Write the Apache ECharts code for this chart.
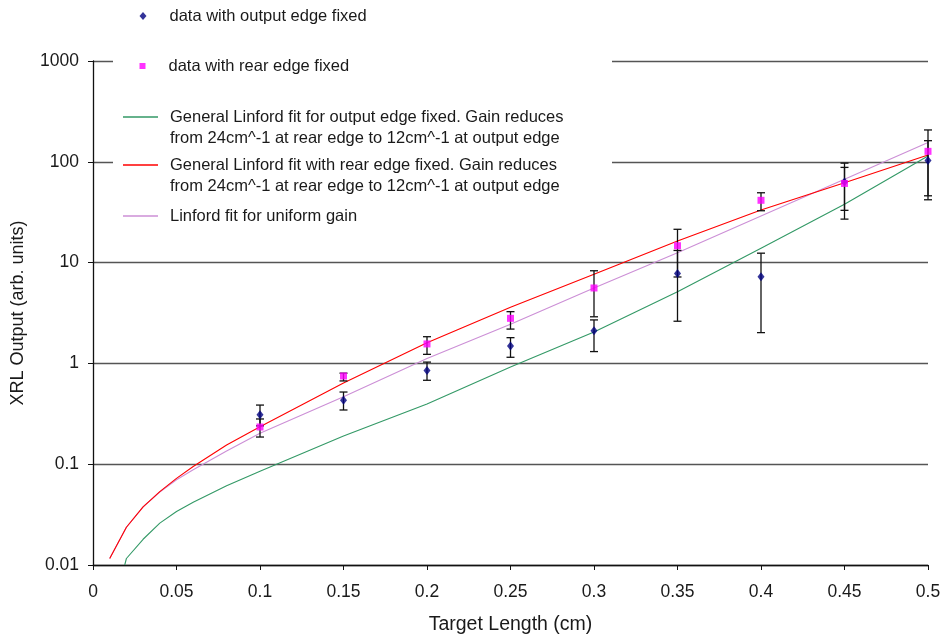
<!DOCTYPE html>
<html>
<head>
<meta charset="utf-8">
<script src="https://cdn.jsdelivr.net/npm/echarts@6/dist/echarts.min.js"></script>
<style>
  html, body { margin: 0; padding: 0; background: #fff; }
  #main { width: 948px; height: 635px; }
</style>
</head>
<body>
<div id="main"></div>
<script>
// measured points (target length in cm)
var lengths = [0.1, 0.15, 0.2, 0.25, 0.3, 0.35, 0.4, 0.45, 0.5];

// data with output edge fixed + error range
var outputFixed = [0.31, 0.43, 0.85, 1.49, 2.11, 7.8, 7.25, 63, 103];
var outputLow   = [0.24, 0.345, 0.68, 1.15, 1.31, 2.62, 2.02, 27, 42];
var outputHigh  = [0.386, 0.52, 1.03, 1.80, 2.7, 13.2, 12.4, 97, 162];

// data with rear edge fixed + error range
var rearFixed = [0.234, 0.75, 1.56, 2.8, 5.6, 14.7, 41.5, 61, 127];
var rearLow   = [0.186, 0.67, 1.23, 2.19, 2.9, 7.2, 32.7, 33, 46];
var rearHigh  = [0.281, 0.80, 1.84, 3.26, 8.3, 21.4, 49.3, 88, 207];

// fit curves
var fitX = [0.01, 0.02, 0.03, 0.04, 0.05, 0.06, 0.08, 0.1, 0.15, 0.2, 0.25, 0.3, 0.35, 0.4, 0.45, 0.5];
var fitRear    = [0.0116, 0.0237, 0.0378, 0.0534, 0.0724, 0.095, 0.155, 0.235, 0.64, 1.6, 3.6, 7.65, 16.4, 33.2, 62, 117];
var fitUniform = [0.0116, 0.0237, 0.0378, 0.053, 0.07, 0.088, 0.135, 0.203, 0.467, 1.12, 2.44, 5.6, 12.5, 29, 67, 155];
var fitOutX = [0.019, 0.02, 0.03, 0.04, 0.05, 0.06, 0.08, 0.1, 0.15, 0.2, 0.25, 0.3, 0.35, 0.4, 0.45, 0.5];
var fitOutput  = [0.01, 0.0116, 0.018, 0.026, 0.034, 0.042, 0.061, 0.085, 0.19, 0.396, 0.92, 2.05, 5.15, 13.9, 38, 114];

var nameOut = 'data with output edge fixed';
var nameRear = 'data with rear edge fixed';
var nameFitOut = 'General Linford fit for output edge fixed. Gain reduces\nfrom 24cm^-1 at rear edge to 12cm^-1 at output edge';
var nameFitRear = 'General Linford fit with rear edge fixed. Gain reduces\nfrom 24cm^-1 at rear edge to 12cm^-1 at output edge';
var nameUni = 'Linford fit for uniform gain';

function zip(xs, ys) {
    return xs.map(function (x, i) { return [x, ys[i]]; });
}
function zipErr(xs, lo, hi) {
    return xs.map(function (x, i) { return [x, lo[i], hi[i]]; });
}

// 误差线
function renderErr(params, api) {
    var x = api.value(0);
    var lo = api.coord([x, api.value(1)]);
    var hi = api.coord([x, api.value(2)]);
    var w = 4;
    var st = { stroke: '#111', lineWidth: 1.3 };
    return {
        type: 'group',
        children: [
            { type: 'line', shape: { x1: lo[0], y1: hi[1], x2: lo[0], y2: lo[1] }, style: st },
            { type: 'line', shape: { x1: lo[0] - w, y1: hi[1], x2: lo[0] + w, y2: hi[1] }, style: st },
            { type: 'line', shape: { x1: lo[0] - w, y1: lo[1], x2: lo[0] + w, y2: lo[1] }, style: st }
        ]
    };
}

var font = 'Liberation Sans, Arial, sans-serif';
var legendText = { fontFamily: font, fontSize: 16.5, color: '#1a1a1a', lineHeight: 20 };
var legendText2 = { fontFamily: font, fontSize: 16.5, color: '#1a1a1a', lineHeight: 21, padding: [0, 0, 0, 7] };

function oneLegend(name, left, top, icon, w, h, ts, fmt) {
    return {
        data: [name], left: left, top: top, padding: 0, icon: icon,
        itemWidth: w, itemHeight: h, selectedMode: false, z: 10,
        textStyle: ts, formatter: fmt
    };
}
// 两行图例：前面加一个空行，让图标对齐第一行
function twoLine(name) { return ' \n' + name; }

var option = {
    animation: false,
    backgroundColor: '#fff',
    textStyle: { fontFamily: font },
    grid: { left: 93, right: 20, top: 61, bottom: 70, outerBoundsMode: 'none', containLabel: false },
    graphic: [{
        type: 'rect', z: 3,
        shape: { x: 113, y: 0, width: 499, height: 236 },
        style: { fill: '#fff' }
    }],
    legend: [
        oneLegend(nameOut, 139.5, 6, 'diamond', 7, 8, Object.assign({}, legendText, { padding: [0, 0, 0, 18] })),
        oneLegend(nameRear, 139.5, 56, 'rect', 6, 6, Object.assign({}, legendText, { padding: [0, 0, 0, 18] })),
        oneLegend(nameFitOut, 123, 85.5, 'rect', 35, 1.3, legendText2, twoLine),
        oneLegend(nameFitRear, 123, 133.5, 'rect', 35, 1.3, legendText2, twoLine),
        oneLegend(nameUni, 123, 206, 'rect', 35, 1.5, Object.assign({}, legendText, { padding: [0, 0, 0, 7] }))
    ],
    xAxis: {
        type: 'value', min: 0, max: 0.5, interval: 0.05,
        name: 'Target Length (cm)', nameLocation: 'middle', nameGap: 50,
        nameTextStyle: { fontSize: 19.5, color: '#1a1a1a', fontFamily: font },
        axisLine: { lineStyle: { color: '#111', width: 1.3 } },
        axisTick: { show: true, length: 5, lineStyle: { color: '#111' } },
        axisLabel: { fontSize: 17.5, color: '#1a1a1a', margin: 18, fontFamily: font },
        splitLine: { show: false }
    },
    yAxis: {
        type: 'log', logBase: 10, min: 0.01, max: 1000,
        name: 'XRL Output (arb. units)', nameLocation: 'middle', nameGap: 66,
        nameTextStyle: { fontSize: 18, color: '#1a1a1a', fontFamily: font },
        axisLine: { show: true, lineStyle: { color: '#111', width: 1.3 } },
        axisTick: { show: true, length: 5, lineStyle: { color: '#111' } },
        axisLabel: {
            fontSize: 17.5, color: '#1a1a1a', margin: 14, fontFamily: font,
            formatter: function (v) { return String(v); }
        },
        splitLine: { show: true, lineStyle: { color: '#555', width: 1.4 } },
        minorTick: { show: false }
    },
    series: [
        {
            name: nameFitOut, type: 'line', data: zip(fitOutX, fitOutput),
            showSymbol: false, color: '#339966', lineStyle: { width: 1.1, color: '#339966' }, z: 2
        },
        {
            name: nameUni, type: 'line', data: zip(fitX, fitUniform),
            showSymbol: false, color: '#CC8FD6', lineStyle: { width: 1.1, color: '#CC8FD6' }, z: 2
        },
        {
            name: nameFitRear, type: 'line', data: zip(fitX, fitRear),
            showSymbol: false, color: '#FF0000', lineStyle: { width: 1.1, color: '#FF0000' }, z: 2
        },
        {
            type: 'custom', renderItem: renderErr, data: zipErr(lengths, outputLow, outputHigh),
            encode: { x: 0, y: [1, 2] }, z: 4
        },
        {
            type: 'custom', renderItem: renderErr, data: zipErr(lengths, rearLow, rearHigh),
            encode: { x: 0, y: [1, 2] }, z: 4
        },
        {
            name: nameOut, type: 'scatter', data: zip(lengths, outputFixed),
            symbol: 'diamond', symbolSize: [7, 9], color: '#000080', z: 5
        },
        {
            name: nameRear, type: 'scatter', data: zip(lengths, rearFixed),
            symbol: 'rect', symbolSize: 7, color: '#FF00FF', z: 5
        }
    ]
};

var chart = echarts.init(document.getElementById('main'));
chart.setOption(option);
</script>
</body>
</html>
